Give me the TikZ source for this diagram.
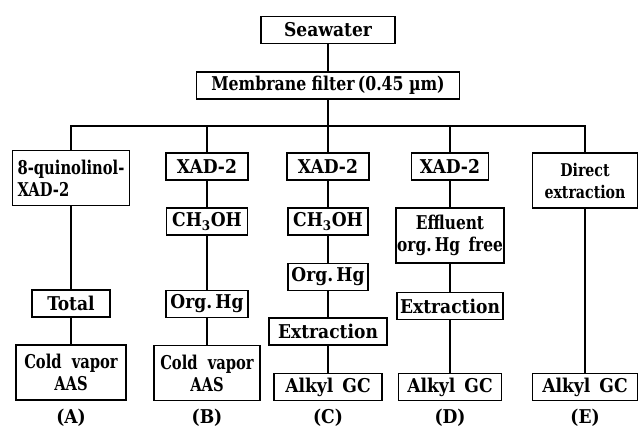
\documentclass[tikz,border=0pt]{standalone}
\usepackage{fontspec}
\IfFontExistsTF{DejaVu Serif Condensed}{\setmainfont{DejaVu Serif Condensed}}{\setmainfont{DejaVu Serif}}
\usepackage{tikz}
\newcommand{\nrw}[1]{\addfontfeature{FakeStretch=#1}}
\begin{document}
\begin{tikzpicture}[x=1pt,y=-1pt,
  every node/.style={font=\fontsize{19}{22}\selectfont\bfseries},
  bx/.style={draw,line width=1.3pt,inner sep=0pt,align=center,minimum width=#1},
  h1/.style={minimum height=27pt},
  h2/.style={minimum height=55pt},
  ln/.style={line width=1.2pt},
  lab/.style={inner sep=0pt}]
\useasboundingbox (0,0) rectangle (639,429);
% top
\node[bx=134,h1] (sea) at (328,30) {Seawater};
\node[bx=263,h1] (mem) at (328,85.5) {\nrw{0.92}Membrane filter\,(0.45 µm)};
\coordinate (bar) at (328,126);
% column A
\node[bx=117,h2,align=left,font=\fontsize{19}{22}\selectfont\bfseries\nrw{0.86}] (a1) at (71,178) {8-quinolinol-\\XAD-2};
\node[bx=78,h1] (a2) at (71,303.5) {Total};
\node[bx=110,h2,font=\fontsize{19}{22}\selectfont\bfseries\nrw{0.86}] (a3) at (71,372.5) {Cold\ \ vapor\\AAS};
\node[lab] (la) at (71,418) {(A)};
% column B
\node[bx=82,h1] (b1) at (207,166.5) {XAD-2};
\node[bx=81,h1] (b2) at (207,221.5) {CH\textsubscript{3}OH};
\node[bx=82,h1] (b3) at (207,304) {Org.\,Hg};
\node[bx=106,h2,font=\fontsize{19}{22}\selectfont\bfseries\nrw{0.86}] (b4) at (207,373) {Cold\ \ vapor\\AAS};
\node[lab] (lb) at (207,418) {(B)};
% column C
\node[bx=82,h1] (c1) at (328,166.5) {XAD-2};
\node[bx=80,h1] (c2) at (328,221.5) {CH\textsubscript{3}OH};
\node[bx=80,h1] (c3) at (328,277) {Org.\,Hg};
\node[bx=118,h1] (c4) at (328,331.5) {Extraction};
\node[bx=108,h1] (c5) at (328,387) {Alkyl\ \,GC};
\node[lab] (lc) at (328,418) {(C)};
% column D
\node[bx=77,h1] (d1) at (450,166.5) {XAD-2};
\node[bx=108,h2,font=\fontsize{19}{22}\selectfont\bfseries\nrw{0.9}] (d2) at (450,235.5) {Effluent\\org.\,Hg\ \,free};
\node[bx=106,h1] (d3) at (450,306) {Extraction};
\node[bx=103,h1] (d4) at (450,387) {Alkyl\ \,GC};
\node[lab] (ld) at (450,418) {(D)};
% column E
\node[bx=105,h2,font=\fontsize{17.5}{22}\selectfont\bfseries\nrw{0.9}] (e1) at (585,180.5) {Direct\\extraction};
\node[bx=105,h1] (e2) at (585,387) {Alkyl\ \,GC};
\node[lab] (le) at (585,418) {(E)};
% connectors
\draw[ln] (sea) -- (mem);
\draw[ln] (mem) -- (bar);
\draw[ln] (a1.north) -- (a1.north |- bar) -- (e1.north |- bar) -- (e1.north);
\draw[ln] (b1.north) -- (b1.north |- bar);
\draw[ln] (c1.north) -- (c1.north |- bar);
\draw[ln] (d1.north) -- (d1.north |- bar);
\draw[ln] (a1) -- (a2);
\draw[ln] (a2) -- (a3);
\draw[ln] (b1) -- (b2);
\draw[ln] (b2) -- (b3);
\draw[ln] (b3) -- (b4);
\draw[ln] (c1) -- (c2);
\draw[ln] (c2) -- (c3);
\draw[ln] (c3) -- (c4);
\draw[ln] (c4) -- (c5);
\draw[ln] (d1) -- (d2);
\draw[ln] (d2) -- (d3);
\draw[ln] (d3) -- (d4);
\draw[ln] (e1) -- (e2);
\end{tikzpicture}
\end{document}
